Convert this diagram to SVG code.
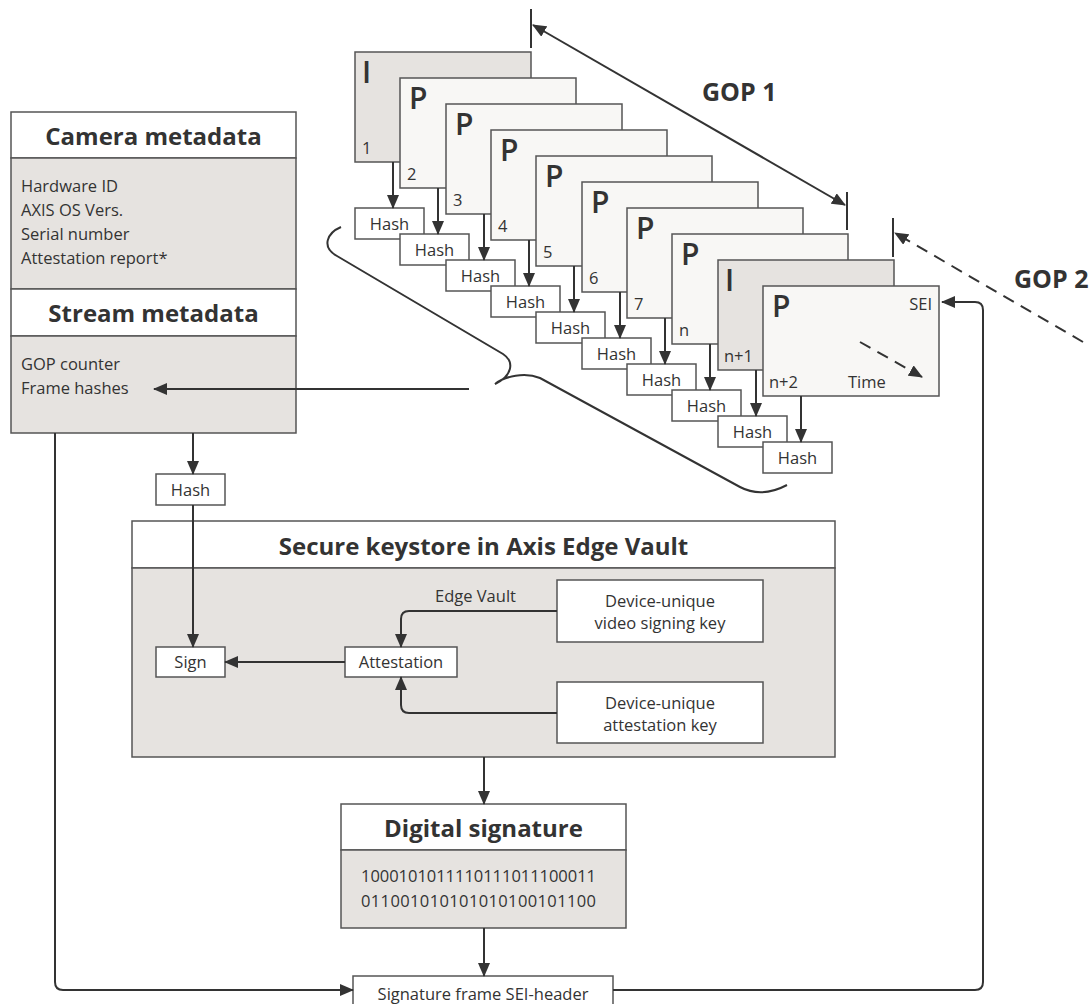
<svg xmlns="http://www.w3.org/2000/svg" width="1091" height="1004" viewBox="0 0 1091 1004">
<style>
text{font-family:"Open Sans","DejaVu Sans",sans-serif;fill:#333}
.box{stroke:#555;stroke-width:1.5}
.w{fill:#fff}
.g{fill:#e6e3e0}
.pf{fill:#f8f7f5}
.hd{font-weight:700;font-size:24px;text-anchor:middle}
.t{font-size:16.5px}
.c{text-anchor:middle}
.fl{font-size:30px;font-weight:600}
.fn{font-size:16.5px}
.hs{font-size:16.5px;text-anchor:middle}
.ln{fill:none;stroke:#333;stroke-width:2}
.ds{stroke-dasharray:12 8}
.gop{font-size:25px;font-weight:700}
</style>
<defs>
<marker id="ah" markerUnits="userSpaceOnUse" markerWidth="14" markerHeight="12" viewBox="0 0 14 12" refX="13" refY="6" orient="auto-start-reverse">
<path d="M0,0 L14,6 L0,12 Z" fill="#333"/>
</marker>
</defs>

<g id="frames">
<g id="f1"><rect class="box g" x="355" y="52" width="176" height="110"/><text class="fl" x="362" y="83">I</text><text class="fn" x="362" y="154">1</text></g>
<g id="f2"><rect class="box pf" x="400" y="78" width="176" height="110"/><text class="fl" x="409" y="109">P</text><text class="fn" x="407" y="180">2</text></g>
<g id="f3"><rect class="box pf" x="446" y="104" width="176" height="110"/><text class="fl" x="455" y="135">P</text><text class="fn" x="453" y="206">3</text></g>
<g id="f4"><rect class="box pf" x="491" y="130" width="176" height="110"/><text class="fl" x="500" y="161">P</text><text class="fn" x="498" y="232">4</text></g>
<g id="f5"><rect class="box pf" x="536" y="156" width="176" height="110"/><text class="fl" x="545" y="187">P</text><text class="fn" x="543" y="258">5</text></g>
<g id="f6"><rect class="box pf" x="582" y="182" width="176" height="110"/><text class="fl" x="591" y="213">P</text><text class="fn" x="589" y="284">6</text></g>
<g id="f7"><rect class="box pf" x="627" y="208" width="176" height="110"/><text class="fl" x="636" y="239">P</text><text class="fn" x="634" y="310">7</text></g>
<g id="fn"><rect class="box pf" x="672" y="234" width="176" height="110"/><text class="fl" x="681" y="265">P</text><text class="fn" x="679" y="336">n</text></g>
<g id="fn1"><rect class="box g" x="718" y="260" width="176" height="110"/><text class="fl" x="725" y="291">I</text><text class="fn" x="724" y="362">n+1</text></g>
<g id="fn2"><rect class="box pf" x="763" y="286" width="176" height="110"/><text class="fl" x="772" y="317">P</text><text class="fn" x="769" y="388">n+2</text><text class="fn" x="932" y="310" text-anchor="end">SEI</text><text class="fn" x="848" y="388">Time</text></g>
</g>

<g id="hashes">
<g id="h1"><rect class="box w" x="355" y="208" width="69" height="31"/><text class="hs" x="389.5" y="230">Hash</text></g>
<g id="h2"><rect class="box w" x="400" y="234" width="69" height="31"/><text class="hs" x="434.5" y="256">Hash</text></g>
<g id="h3"><rect class="box w" x="446" y="260" width="69" height="31"/><text class="hs" x="480.5" y="282">Hash</text></g>
<g id="h4"><rect class="box w" x="491" y="286" width="69" height="31"/><text class="hs" x="525.5" y="308">Hash</text></g>
<g id="h5"><rect class="box w" x="536" y="312" width="69" height="31"/><text class="hs" x="570.5" y="334">Hash</text></g>
<g id="h6"><rect class="box w" x="582" y="338" width="69" height="31"/><text class="hs" x="616.5" y="360">Hash</text></g>
<g id="h7"><rect class="box w" x="627" y="364" width="69" height="31"/><text class="hs" x="661.5" y="386">Hash</text></g>
<g id="h8"><rect class="box w" x="672" y="390" width="69" height="31"/><text class="hs" x="706.5" y="412">Hash</text></g>
<g id="h9"><rect class="box w" x="718" y="416" width="69" height="31"/><text class="hs" x="752.5" y="438">Hash</text></g>
<g id="h10"><rect class="box w" x="763" y="442" width="69" height="31"/><text class="hs" x="797.5" y="464">Hash</text></g>
</g>

<g id="gop-labels">
<text class="gop" x="702" y="101">GOP 1</text>
<text class="gop" x="1014" y="288">GOP 2</text>
</g>

<g id="camera-metadata">
<rect class="box w" x="11" y="112" width="285" height="46"/>
<rect class="box g" x="11" y="158" width="285" height="131"/>
<rect class="box w" x="11" y="289" width="285" height="47"/>
<rect class="box g" x="11" y="336" width="285" height="97"/>
<text class="hd" x="153.5" y="145">Camera metadata</text>
<text class="t" x="21" y="192">Hardware ID</text>
<text class="t" x="21" y="216">AXIS OS Vers.</text>
<text class="t" x="21" y="240">Serial number</text>
<text class="t" x="21" y="264">Attestation report*</text>
<text class="hd" x="153.5" y="322">Stream metadata</text>
<text class="t" x="21" y="370">GOP counter</text>
<text class="t" x="21" y="394">Frame hashes</text>
</g>

<g id="hash-small"><rect class="box w" x="156" y="474" width="69" height="31"/><text class="hs" x="190.5" y="496">Hash</text></g>

<g id="keystore">
<rect class="box w" x="132" y="521" width="703" height="47"/>
<rect class="box g" x="132" y="568" width="703" height="189"/>
<text class="hd" x="483.5" y="555">Secure keystore in Axis Edge Vault</text>
<text class="t" x="435" y="602">Edge Vault</text>
</g>
<g id="sign"><rect class="box w" x="156" y="647" width="69" height="30"/><text class="hs" x="190.5" y="668">Sign</text></g>
<g id="attestation"><rect class="box w" x="345" y="647" width="112" height="30"/><text class="hs" x="401" y="668">Attestation</text></g>
<g id="video-key"><rect class="box w" x="557" y="580" width="206" height="62"/><text class="t c" x="660" y="607">Device-unique</text><text class="t c" x="660" y="629">video signing key</text></g>
<g id="attest-key"><rect class="box w" x="557" y="682" width="206" height="61"/><text class="t c" x="660" y="709">Device-unique</text><text class="t c" x="660" y="731">attestation key</text></g>

<g id="digital-signature">
<rect class="box w" x="341" y="804" width="285" height="46"/>
<rect class="box g" x="341" y="850" width="285" height="78"/>
<text class="hd" x="483.5" y="837">Digital signature</text>
<text class="t" x="361" y="882" textLength="235" lengthAdjust="spacing">1000101011110111011100011</text>
<text class="t" x="361" y="907" textLength="235" lengthAdjust="spacing">011001010101010100101100</text>
</g>

<g id="sei-header"><rect class="box w" x="353" y="976" width="260" height="40"/><text class="hs" x="483" y="1000">Signature frame SEI-header</text></g>

<g id="connectors">
<line class="ln" x1="393" y1="162" x2="393" y2="208" marker-end="url(#ah)"/>
<line class="ln" x1="438" y1="188" x2="438" y2="234" marker-end="url(#ah)"/>
<line class="ln" x1="484" y1="214" x2="484" y2="260" marker-end="url(#ah)"/>
<line class="ln" x1="529" y1="240" x2="529" y2="286" marker-end="url(#ah)"/>
<line class="ln" x1="574" y1="266" x2="574" y2="312" marker-end="url(#ah)"/>
<line class="ln" x1="620" y1="292" x2="620" y2="338" marker-end="url(#ah)"/>
<line class="ln" x1="665" y1="318" x2="665" y2="364" marker-end="url(#ah)"/>
<line class="ln" x1="710" y1="344" x2="710" y2="390" marker-end="url(#ah)"/>
<line class="ln" x1="756" y1="370" x2="756" y2="416" marker-end="url(#ah)"/>
<line class="ln" x1="801" y1="396" x2="801" y2="442" marker-end="url(#ah)"/>
<line class="ln" x1="531" y1="9" x2="531" y2="48"/>
<line class="ln" x1="847" y1="192" x2="847" y2="230"/>
<line class="ln" x1="533" y1="25" x2="845" y2="205" marker-start="url(#ah)" marker-end="url(#ah)"/>
<line class="ln" x1="893" y1="218" x2="893" y2="257"/>
<line class="ln ds" x1="1083" y1="342" x2="895" y2="233" marker-end="url(#ah)"/>
<line class="ln ds" x1="860" y1="342" x2="922" y2="377" marker-end="url(#ah)"/>
<path class="ln" d="M341,227 C327,233 321,247 337,256 L503,354 C515,362 512,376 495,384 C505,376 525,372 540,378 L740,487 C755,495 770,494 787,485"/>
<line class="ln" x1="469" y1="389" x2="154" y2="389" marker-end="url(#ah)"/>
<line class="ln" x1="193" y1="433" x2="193" y2="474" marker-end="url(#ah)"/>
<line class="ln" x1="193" y1="505" x2="193" y2="647" marker-end="url(#ah)"/>
<line class="ln" x1="345" y1="662" x2="225" y2="662" marker-end="url(#ah)"/>
<path class="ln" d="M557,611 H409 Q401,611 401,619 V647" marker-end="url(#ah)"/>
<path class="ln" d="M557,713 H409 Q401,713 401,705 V677" marker-end="url(#ah)"/>
<line class="ln" x1="484" y1="757" x2="484" y2="804" marker-end="url(#ah)"/>
<line class="ln" x1="484" y1="928" x2="484" y2="976" marker-end="url(#ah)"/>
<path class="ln" d="M55,433 V982 Q55,990 63,990 H353" marker-end="url(#ah)"/>
<path class="ln" d="M613,990 H975 Q983,990 983,982 V310 Q983,302 975,302 H942" marker-end="url(#ah)"/>
</g>
</svg>
